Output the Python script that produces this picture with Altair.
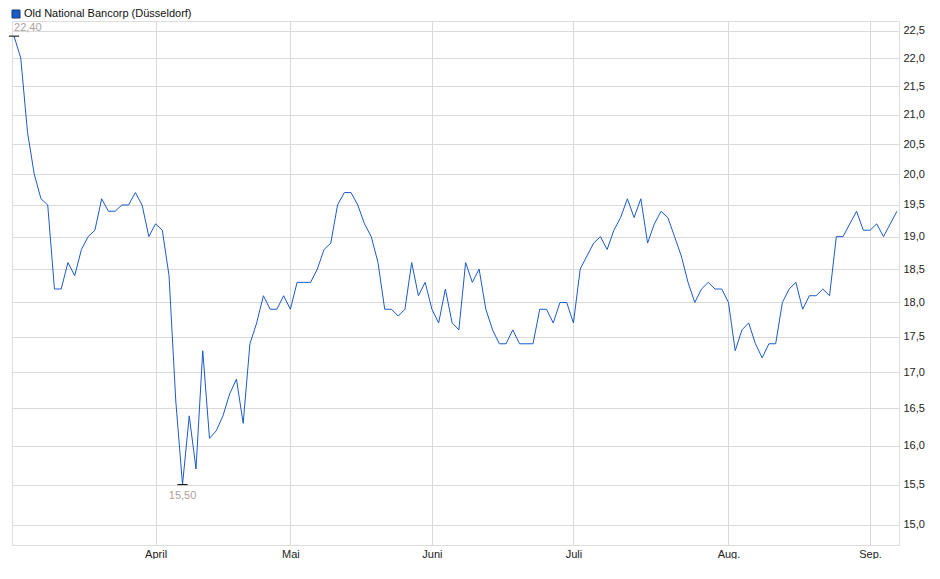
import altair as alt
import pandas as pd
import numpy as np

SERIES_NAME = "Old National Bancorp (Düsseldorf)"

# daily closing prices (trading-day order)
PRICES = [
    22.4, 22.0, 20.7, 20.0, 19.6, 19.5, 18.2, 18.2, 18.6, 18.4,
    18.8, 19.0, 19.1, 19.6, 19.4, 19.4, 19.5, 19.5, 19.7, 19.5,
    19.0, 19.2, 19.1, 18.4, 16.6, 15.5, 16.4, 15.7, 17.3, 16.1,
    16.2, 16.4, 16.7, 16.9, 16.3, 17.4, 17.7, 18.1, 17.9, 17.9,
    18.1, 17.9, 18.3, 18.3, 18.3, 18.5, 18.8, 18.9, 19.5, 19.7,
    19.7, 19.5, 19.2, 19.0, 18.6, 17.9, 17.9, 17.8, 17.9, 18.6,
    18.1, 18.3, 17.9, 17.7, 18.2, 17.7, 17.6, 18.6, 18.3, 18.5,
    17.9, 17.6, 17.4, 17.4, 17.6, 17.4, 17.4, 17.4, 17.9, 17.9,
    17.7, 18.0, 18.0, 17.7, 18.5, 18.7, 18.9, 19.0, 18.8, 19.1,
    19.3, 19.6, 19.3, 19.6, 18.9, 19.2, 19.4, 19.3, 19.0, 18.7,
    18.3, 18.0, 18.2, 18.3, 18.2, 18.2, 18.0, 17.3, 17.6, 17.7,
    17.4, 17.2, 17.4, 17.4, 18.0, 18.2, 18.3, 17.9, 18.1, 18.1,
    18.2, 18.1, 19.0, 19.0, 19.2, 19.4, 19.1, 19.1, 19.2, 19.0,
    19.2, 19.4,
]

MONTH_LABELS = ["April", "Mai", "Juni", "Juli", "Aug.", "Sep."]
MONTH_START_IDX = [21, 41, 62, 83, 106, 127]

Y_TICKS = [15.0, 15.5, 16.0, 16.5, 17.0, 17.5, 18.0, 18.5, 19.0,
           19.5, 20.0, 20.5, 21.0, 21.5, 22.0, 22.5]
Y_DOMAIN = [14.75, 22.68]

LINE_COLOR = "#1c5ac8"
GRID_COLOR = "#dadada"
BORDER_COLOR = "#cfcfcf"
ANNOT_COLOR = "#a9a39b"
TEXT_COLOR = "#222222"
FONT = "Liberation Sans"

df = pd.DataFrame({"idx": np.arange(len(PRICES)), "price": PRICES})

imax = int(np.argmax(PRICES))
imin = int(np.argmin(PRICES))
ext = pd.DataFrame({
    "idx": [imax, imin],
    "price": [PRICES[imax], PRICES[imin]],
    "label": [f"{PRICES[imax]:.2f}".replace(".", ","), f"{PRICES[imin]:.2f}".replace(".", ",")],
    "kind": ["max", "min"],
})

legend_df = pd.DataFrame({"name": [SERIES_NAME]})

x_label_expr = "".join(
    f"datum.value == {i} ? '{l}' : " for i, l in zip(MONTH_START_IDX, MONTH_LABELS)
) + "''"

x_scale = alt.Scale(domain=[-0.3, len(PRICES) - 1 + 0.3], nice=False, zero=False)
y_scale = alt.Scale(type="log", domain=Y_DOMAIN, nice=False, zero=False)

x_enc = alt.X(
    "idx:Q", scale=x_scale,
    axis=alt.Axis(values=MONTH_START_IDX, labelExpr=x_label_expr, title=None,
                  grid=True, gridColor=GRID_COLOR, ticks=False, domain=False,
                  labelPadding=3, labelFontSize=11, labelColor=TEXT_COLOR,
                  labelFlush=False, labelFont=FONT),
)
y_enc = alt.Y(
    "price:Q", scale=y_scale,
    axis=alt.Axis(orient="right", values=Y_TICKS,
                  labelExpr="replace(format(datum.value, '.1f'), '.', ',')",
                  title=None, grid=True, gridColor=GRID_COLOR, ticks=False,
                  domain=False, labelPadding=4, labelFontSize=11,
                  labelColor=TEXT_COLOR, labelFont=FONT),
)

line = alt.Chart(df).mark_line(color=LINE_COLOR, strokeWidth=1).encode(x=x_enc, y=y_enc)

ext_base = alt.Chart(ext).transform_calculate(
    lo="datum.idx - 0.75", hi="datum.idx + 0.75"
)
ext_rule = ext_base.mark_rule(color="black", strokeWidth=1).encode(
    x=alt.X("lo:Q", scale=x_scale), x2="hi:Q",
    y=alt.Y("price:Q", scale=y_scale),
)
max_text = ext_base.transform_filter("datum.kind == 'max'").mark_text(
    align="left", baseline="middle", dx=0, dy=-8, fontSize=11,
    color=ANNOT_COLOR, font=FONT,
).encode(x=alt.X("idx:Q", scale=x_scale), y=alt.Y("price:Q", scale=y_scale), text="label:N")
min_text = ext_base.transform_filter("datum.kind == 'min'").mark_text(
    align="center", baseline="middle", dy=11, fontSize=11,
    color=ANNOT_COLOR, font=FONT,
).encode(x=alt.X("idx:Q", scale=x_scale), y=alt.Y("price:Q", scale=y_scale), text="label:N")

legend_sq = alt.Chart(legend_df).mark_square(
    size=64, filled=True, color=LINE_COLOR, stroke="#15397a", strokeWidth=1, opacity=1
).encode(x=alt.value(4), y=alt.value(-7))
legend_txt = alt.Chart(legend_df).mark_text(
    align="left", baseline="middle", fontSize=11, color="#111111", font=FONT
).encode(x=alt.value(12), y=alt.value(-7), text="name:N")

chart = alt.layer(line, ext_rule, max_text, min_text, legend_sq, legend_txt).properties(
    width=887, height=524, padding=0
).configure_view(
    stroke=BORDER_COLOR, strokeWidth=1
).configure(font=FONT, background="white")

chart.save("out.html", embed_options={"renderer": "svg", "actions": False})
